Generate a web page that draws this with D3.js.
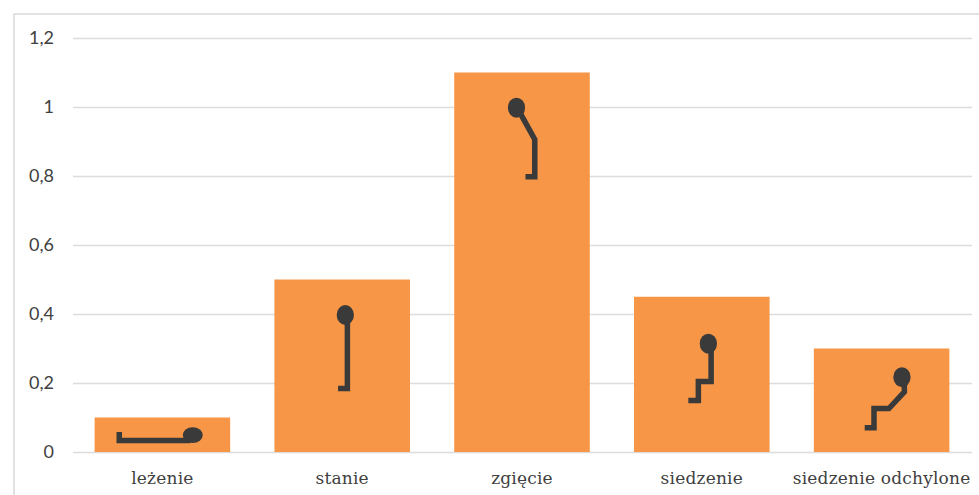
<!DOCTYPE html>
<html lang="pl">
<head>
<meta charset="utf-8">
<script src="https://cdn.jsdelivr.net/npm/d3@7/dist/d3.min.js"></script>
<style>
  html, body { margin: 0; background: #fff; }
  svg { display: block; }
  .y-axis text { font: 18px Lato, "Open Sans", sans-serif; fill: #404040; }
  .x-axis text { font: 17px "DejaVu Serif", serif; letter-spacing: 0.2px; fill: #404040; }
</style>
</head>
<body>
<svg id="chart" width="979" height="495"></svg>
<script>
const categories = ["leżenie", "stanie", "zgięcie", "siedzenie", "siedzenie odchylone"];
const values = [0.1, 0.5, 1.1, 0.45, 0.3];
const yTicks = [0, 0.2, 0.4, 0.6, 0.8, 1, 1.2];

// Posture figures, expressed in axis units: [offset from bar centre, axis value]
const bodyLines = [
  [[-0.125, 0.058], [-0.125, 0.033], [0.081, 0.033]],
  [[-0.012, 0.184], [0.015, 0.184], [0.015, 0.383]],
  [[0.010, 0.798], [0.037, 0.798], [0.037, 0.906], [-0.010, 0.991]],
  [[-0.039, 0.149], [-0.010, 0.149], [-0.010, 0.204], [0.027, 0.204], [0.027, 0.310]],
  [[-0.049, 0.070], [-0.022, 0.070], [-0.022, 0.126], [0.021, 0.126], [0.066, 0.174], [0.066, 0.209]]
];
// Heads: [offset from bar centre, axis value, x radius, y radius]
const heads = [
  [0.088, 0.049, 0.029, 0.023],
  [0.009, 0.397, 0.025, 0.029],
  [-0.016, 0.998, 0.025, 0.029],
  [0.019, 0.314, 0.025, 0.029],
  [0.059, 0.217, 0.025, 0.029]
];

const svg = d3.select("#chart");

const x = d3.scaleBand().domain(categories).range([72.5, 971.5]).paddingInner(0.246).paddingOuter(0.123);
const y = d3.scaleLinear().domain([0, 1.2]).range([452, 38]);
// Figures keep their proportions: one axis unit spans the same length in both directions
const unit = d3.scaleLinear().domain([0, 1]).range([0, y(0) - y(1)]);
const decimalComma = v => String(v).replace(".", ",");

// Chart frame: only its top and left edges fall inside the page
svg.append("path")
  .attr("d", d3.line()([[14, 495], [14, 14], [979, 14]]))
  .attr("fill", "none")
  .attr("stroke", "#d9d9d9")
  .attr("stroke-width", 1.5);

// Value axis with gridlines
const yAxis = svg.append("g")
  .attr("class", "y-axis")
  .attr("transform", "translate(73,0)")
  .call(d3.axisLeft(y).tickValues(yTicks).tickFormat(decimalComma).tickSize(-899).tickPadding(19));
yAxis.select(".domain").remove();
yAxis.selectAll("line").attr("stroke", "#dcdcdc").attr("stroke-width", 1.5);

// Bars
svg.append("g").selectAll("rect")
  .data(values)
  .join("rect")
  .attr("x", (d, i) => x(categories[i]))
  .attr("y", d => y(d))
  .attr("width", x.bandwidth())
  .attr("height", d => y(0) - y(d))
  .attr("fill", "#f79646");

// Category axis
const xAxis = svg.append("g")
  .attr("class", "x-axis")
  .attr("transform", "translate(0,452)")
  .call(d3.axisBottom(x).tickSize(0).tickPadding(20));
xAxis.select(".domain").remove();

// Posture figures on top of the bars
const figures = svg.append("g").selectAll("g")
  .data(categories)
  .join("g")
  .attr("transform", c => `translate(${x(c) + x.bandwidth() / 2},0)`);

figures.append("path")
  .attr("d", (c, i) => d3.line().x(p => unit(p[0])).y(p => y(p[1]))(bodyLines[i]))
  .attr("fill", "none")
  .attr("stroke", "#3a3a3a")
  .attr("stroke-width", 5.5)
  .attr("stroke-linejoin", "miter");

figures.append("ellipse")
  .attr("cx", (c, i) => unit(heads[i][0]))
  .attr("cy", (c, i) => y(heads[i][1]))
  .attr("rx", (c, i) => unit(heads[i][2]))
  .attr("ry", (c, i) => unit(heads[i][3]))
  .attr("fill", "#3a3a3a");
</script>
</body>
</html>
